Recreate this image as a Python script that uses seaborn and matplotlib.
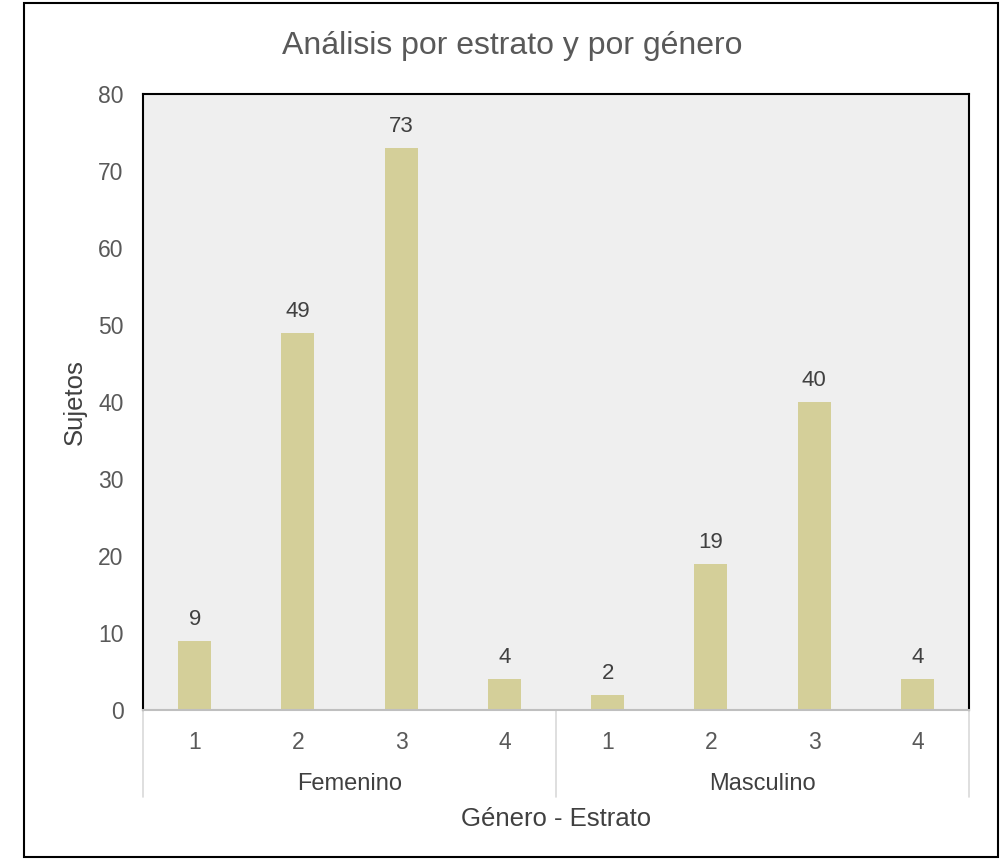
import matplotlib
matplotlib.use("Agg")
import matplotlib.pyplot as plt
import matplotlib.transforms as mtransforms
from matplotlib.patches import Rectangle
import seaborn as sns
import pandas as pd

generos = ["Femenino", "Femenino", "Femenino", "Femenino",
           "Masculino", "Masculino", "Masculino", "Masculino"]
estratos = ["1", "2", "3", "4", "1", "2", "3", "4"]
sujetos = [9, 49, 73, 4, 2, 19, 40, 4]
grupos = ["Femenino", "Masculino"]

df = pd.DataFrame({
    "cat": [f"{g}-{e}" for g, e in zip(generos, estratos)],
    "genero": generos,
    "estrato": estratos,
    "sujetos": sujetos,
})

sns.set_theme(style="white")
plt.rcParams['font.family'] = ['Liberation Sans', 'DejaVu Sans']

fig = plt.figure(figsize=(10, 8.6), dpi=100)
ax = fig.add_axes([0.143, 0.1744, 0.826, 0.7163])
ax.set_facecolor("#EFEFEF")

sns.barplot(data=df, x="cat", y="sujetos", order=list(df["cat"]),
            color="#D4CF99", saturation=1, width=0.32, linewidth=0, ax=ax)

ax.set_ylim(0, 80)
ax.set_xlim(-0.5, len(sujetos) - 0.5)
ax.set_yticks(range(0, 81, 10))
ax.tick_params(axis="y", length=0, labelsize=16.5, labelcolor="#595959", pad=14)
ax.tick_params(axis="x", length=0, labelsize=16.5, labelcolor="#595959", pad=15)
ax.set_xticks(range(len(sujetos)))
ax.set_xticklabels(estratos)

for i, v in enumerate(sujetos):
    ax.text(i, v + 1.4, str(v), ha="center", va="bottom", fontsize=16, color="#404040")

for side in ["left", "top", "right"]:
    ax.spines[side].set_color("black")
    ax.spines[side].set_linewidth(1.5)
ax.spines["bottom"].set_color("#BFBFBF")
ax.spines["bottom"].set_linewidth(1.5)

ax.set_xlabel("Género - Estrato", fontsize=18.5, color="#404040", labelpad=38)
ax.set_ylabel("Sujetos", fontsize=18.5, color="#404040", labelpad=8)

trans = mtransforms.blended_transform_factory(ax.transData, ax.transAxes)
n_per = 4
for gi, g in enumerate(grupos):
    center = gi * n_per + (n_per - 1) / 2
    ax.text(center, -0.12, g, transform=trans, ha="center", va="center",
            fontsize=17, color="#404040")
for b in range(len(grupos) + 1):
    x = b * n_per - 0.5
    ax.plot([x, x], [0, -0.141], transform=trans, color="#D9D9D9", lw=1.2,
            clip_on=False)

fig.text(0.512, 0.947, "Análisis por estrato y por género", ha="center",
         va="center", fontsize=23, color="#595959")

fig.patches.append(Rectangle((0.0235, 0.003), 0.974, 0.993, transform=fig.transFigure,
                             fill=False, edgecolor="black", lw=1.5))

fig.savefig("out.png", dpi=100)
